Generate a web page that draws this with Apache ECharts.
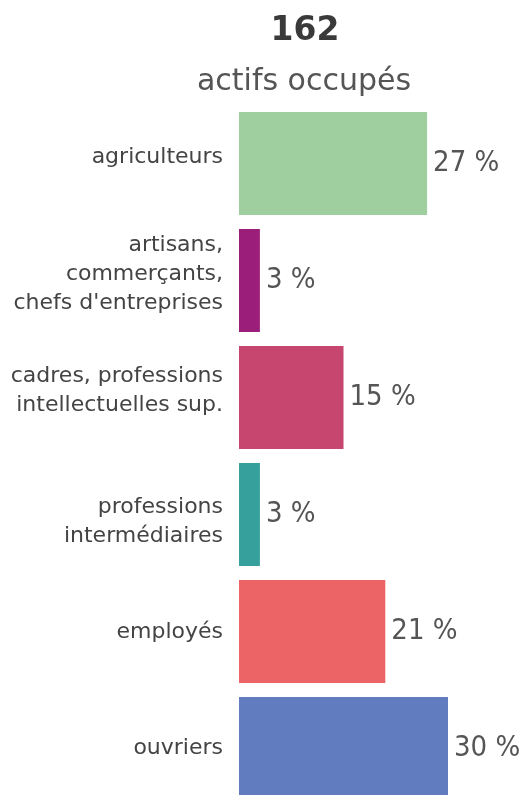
<!DOCTYPE html>
<html><head><meta charset="utf-8">
<script src="https://cdn.jsdelivr.net/npm/echarts@6/dist/echarts.min.js"></script>
<style>html,body{margin:0;padding:0;background:#fff;overflow:hidden}#c{width:519px;height:807px}</style>
</head><body><div id="c"></div>
<script>
const totalLabel = '162';
const subtitle = 'actifs occupés';
const categories = ['agriculteurs', 'artisans,\ncommerçants,\nchefs d\'entreprises', 'cadres, professions\nintellectuelles sup.', 'professions\nintermédiaires', 'employés', 'ouvriers'];
const values = [27, 3, 15, 3, 21, 30];
const colors = ['#9fcf9f', '#9b1f7a', '#c6466f', '#35a09c', '#ec6466', '#617cbf'];
// vertical nudge of each category label (px, negative = up)
const labelNudge = [-6, -6, -7, 7, 1, 0];

const rich = {t: {color: '#444', fontFamily: 'DejaVu Sans', fontSize: 22, lineHeight: 29, align: 'right'}};
labelNudge.forEach((n, i) => { if (n) rich['s' + i] = {fontSize: 1, lineHeight: Math.abs(n) * 2, align: 'right'}; });

function fmt(val, idx) {
  const body = val.split('\n').map(l => '{t|' + l + '}').join('\n');
  const n = labelNudge[idx];
  if (!n) return body;
  const sp = '{s' + idx + '| }';
  return n < 0 ? body + '\n' + sp : sp + '\n' + body;
}

const chart = echarts.init(document.getElementById('c'), null, {renderer: 'canvas'});
chart.setOption({
  animation: false,
  backgroundColor: '#fff',
  graphic: [
    {type: 'text', x: 305, y: 31, style: {text: totalLabel, textAlign: 'center', textVerticalAlign: 'middle', font: 'bold 33px "DejaVu Sans"', fill: '#3a3a3a'}},
    {type: 'text', x: 304, y: 82, style: {text: subtitle, textAlign: 'center', textVerticalAlign: 'middle', font: '30px "DejaVu Sans"', fill: '#555'}}
  ],
  grid: {left: 239, width: 209, top: 105, bottom: 0, containLabel: false},
  xAxis: {type: 'value', min: 0, max: 30, show: false},
  yAxis: {
    type: 'category', inverse: true, data: categories,
    axisLine: {show: false}, axisTick: {show: false},
    axisLabel: {margin: 16, formatter: fmt, rich: rich, align: 'right'}
  },
  series: [{
    type: 'bar', barCategoryGap: '12%',
    data: values.map((v, i) => ({value: v, itemStyle: {color: colors[i]}})),
    label: {show: true, position: 'right', distance: 6, formatter: p => p.value + ' %', color: '#555', fontFamily: '"DejaVu Sans Condensed", sans-serif', fontSize: 29}
  }]
});
</script></body></html>
